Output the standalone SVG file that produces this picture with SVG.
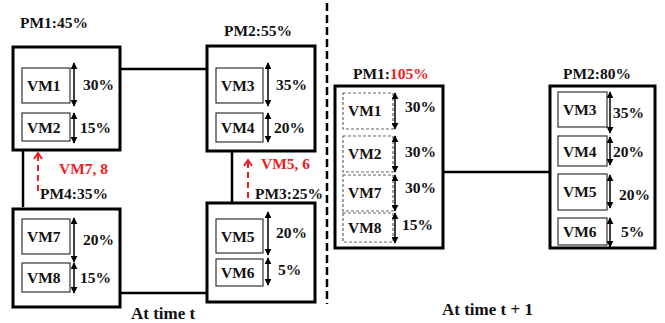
<svg xmlns="http://www.w3.org/2000/svg" width="665" height="323" viewBox="0 0 665 323">
<style>
text{font-family:"Liberation Serif","Times New Roman",serif;font-weight:bold;font-size:15.5px;fill:#111}
.red{fill:#ee1c24}
.pm{fill:#fff;stroke:#000;stroke-width:3}
.vm{fill:#fff;stroke:#333;stroke-width:1.2}
.vmd{fill:#fff;stroke:#666;stroke-width:1.2;stroke-dasharray:3 2}
.dim{stroke:#000;stroke-width:1.5;fill:none;marker-start:url(#ah);marker-end:url(#ah)}
.link{stroke:#000;stroke-width:2.5;fill:none}
.mig{stroke:#ee1c24;stroke-width:2;fill:none;stroke-dasharray:6 4}
.cap{font-size:17px}
</style>
<defs>
<marker id="ah" viewBox="0 0 10 10" refX="9" refY="5" markerWidth="7" markerHeight="7" markerUnits="userSpaceOnUse" orient="auto-start-reverse">
<path d="M0,0 L10,5 L0,10 z" fill="#000"/>
</marker>
</defs>

<g id="connectors">
<line class="link" x1="120" y1="69" x2="207" y2="69"/>
<line class="link" x1="23" y1="150" x2="23" y2="207"/>
<line class="link" x1="232" y1="151" x2="232" y2="203"/>
<line class="link" x1="120" y1="293" x2="207" y2="293"/>
<line class="link" x1="443" y1="172" x2="551" y2="172"/>
<line stroke="#000" stroke-width="2.5" stroke-dasharray="8 4" x1="327" y1="3" x2="327" y2="304"/>
<g id="mig1">
<line class="mig" x1="38" y1="155" x2="38" y2="195"/>
<path d="M34,159 L38,153 L42,159" stroke="#ee1c24" stroke-width="2" fill="none"/>
</g>
<g id="mig2">
<line class="mig" x1="248" y1="162" x2="248" y2="199"/>
<path d="M244,166 L248,160 L252,166" stroke="#ee1c24" stroke-width="2" fill="none"/>
</g>
</g>

<text x="59" y="174" class="red">VM7, 8</text>
<text x="261" y="169" class="red">VM5, 6</text>

<g id="pm1">
<text x="20" y="28">PM1:45%</text>
<rect class="pm" x="13" y="47" width="107" height="103"/>
<rect class="vm" x="22" y="68" width="48" height="35"/>
<text x="27" y="91">VM1</text>
<line class="dim" x1="74" y1="63" x2="74" y2="106"/>
<text x="83" y="90">30%</text>
<rect class="vm" x="22" y="113" width="48" height="28"/>
<text x="27" y="133">VM2</text>
<line class="dim" x1="74" y1="113" x2="74" y2="143"/>
<text x="80" y="133">15%</text>
</g>

<g id="pm2">
<text x="224" y="36">PM2:55%</text>
<rect class="pm" x="207" y="46" width="108" height="105"/>
<rect class="vm" x="216" y="68" width="47" height="35"/>
<text x="221" y="91">VM3</text>
<line class="dim" x1="268" y1="63" x2="268" y2="106"/>
<text x="276" y="90">35%</text>
<rect class="vm" x="216" y="113" width="47" height="29"/>
<text x="221" y="133">VM4</text>
<line class="dim" x1="268" y1="113" x2="268" y2="142"/>
<text x="274" y="133">20%</text>
</g>

<g id="pm4">
<text x="40" y="199">PM4:35%</text>
<rect class="pm" x="13" y="209" width="107" height="98"/>
<rect class="vm" x="22" y="219" width="48" height="35"/>
<text x="27" y="242">VM7</text>
<line class="dim" x1="74" y1="218" x2="74" y2="262"/>
<text x="83" y="245">20%</text>
<rect class="vm" x="22" y="263" width="48" height="29"/>
<text x="27" y="283">VM8</text>
<line class="dim" x1="74" y1="263" x2="74" y2="293"/>
<text x="80" y="283">15%</text>
</g>

<g id="pm3">
<text x="255" y="199">PM3:25%</text>
<rect class="pm" x="207" y="203" width="108" height="99"/>
<rect class="vm" x="216" y="219" width="47" height="34"/>
<text x="221" y="242">VM5</text>
<line class="dim" x1="268" y1="212" x2="268" y2="255"/>
<text x="276" y="238">20%</text>
<rect class="vm" x="216" y="259" width="47" height="27"/>
<text x="221" y="278">VM6</text>
<line class="dim" x1="268" y1="258" x2="268" y2="285"/>
<text x="278" y="275">5%</text>
</g>

<text x="131" y="319" class="cap">At time t</text>

<g id="pm1b">
<text x="353" y="79">PM1:<tspan class="red">105%</tspan></text>
<rect class="pm" x="335" y="86" width="108" height="162"/>
<rect class="vmd" x="343" y="93" width="50" height="36"/>
<text x="348" y="116">VM1</text>
<line class="dim" x1="395" y1="93" x2="395" y2="129"/>
<text x="405" y="112">30%</text>
<rect class="vmd" x="343" y="136" width="50" height="36"/>
<text x="348" y="159">VM2</text>
<line class="dim" x1="395" y1="136" x2="395" y2="172"/>
<text x="405" y="157">30%</text>
<rect class="vmd" x="343" y="175" width="50" height="36"/>
<text x="348" y="198">VM7</text>
<line class="dim" x1="395" y1="175" x2="395" y2="211"/>
<text x="405" y="193">30%</text>
<rect class="vmd" x="343" y="213" width="50" height="29"/>
<text x="348" y="233">VM8</text>
<line class="dim" x1="395" y1="213" x2="395" y2="243"/>
<text x="402" y="230">15%</text>
</g>

<g id="pm2b">
<text x="563" y="79">PM2:80%</text>
<rect class="pm" x="550" y="86" width="105" height="162"/>
<rect class="vm" x="558" y="92" width="49" height="35"/>
<text x="563" y="115">VM3</text>
<line class="dim" x1="610" y1="92" x2="610" y2="133"/>
<text x="613" y="118">35%</text>
<rect class="vm" x="558" y="136" width="49" height="30"/>
<text x="563" y="157">VM4</text>
<line class="dim" x1="610" y1="137" x2="610" y2="165"/>
<text x="613" y="157">20%</text>
<rect class="vm" x="558" y="174" width="49" height="36"/>
<text x="563" y="197">VM5</text>
<line class="dim" x1="610" y1="175" x2="610" y2="208"/>
<text x="619" y="200">20%</text>
<rect class="vm" x="558" y="218" width="49" height="27"/>
<text x="563" y="237">VM6</text>
<line class="dim" x1="610" y1="218" x2="610" y2="247"/>
<text x="621" y="237">5%</text>
</g>

<text x="442" y="315" class="cap">At time t + 1</text>
</svg>
